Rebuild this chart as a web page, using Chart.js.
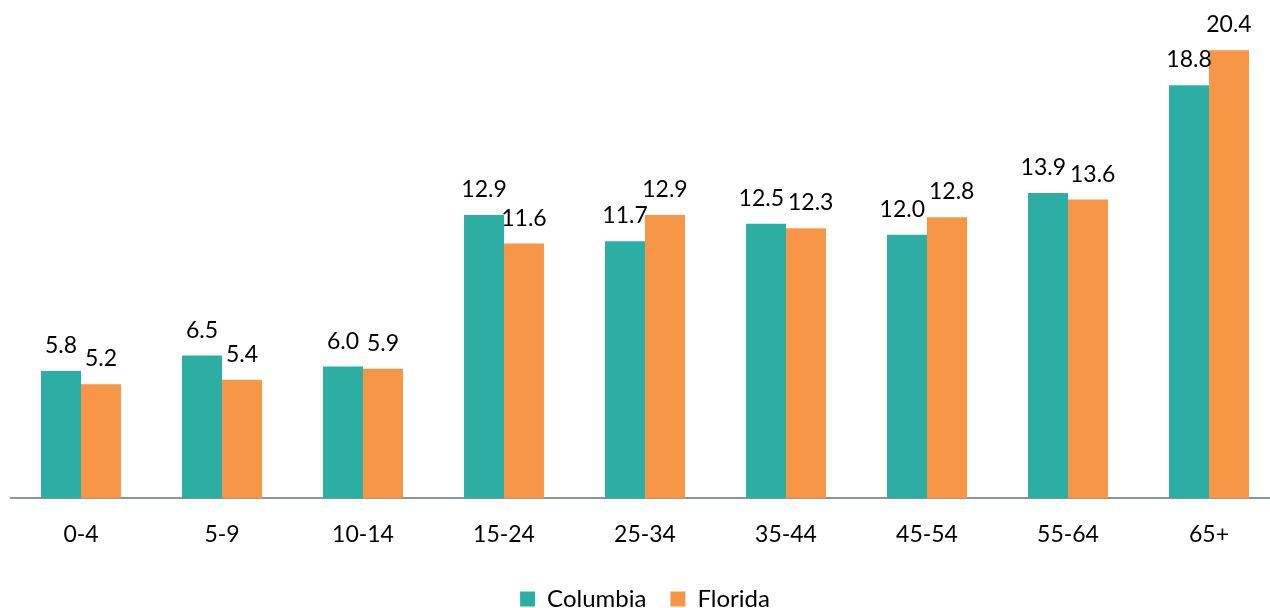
<!DOCTYPE html>
<html>
<head>
<meta charset="utf-8">
<script src="https://cdn.jsdelivr.net/npm/chart.js@4/dist/chart.umd.min.js"></script>
<style>
    html, body { margin: 0; padding: 0; background: #fff; overflow: hidden; }
    #wrap { width: 1270px; height: 608px; overflow: hidden; position: relative; }
    #ageChart { position: absolute; left: 0; top: 0; }
</style>
</head>
<body>
<div id="wrap">
    <canvas id="ageChart" width="1290" height="621"></canvas>
</div>
<script>
const AGE_GROUPS = ["0-4", "5-9", "10-14", "15-24", "25-34", "35-44", "45-54", "55-64", "65+"];
const COLUMBIA = [5.8, 6.5, 6.0, 12.9, 11.7, 12.5, 12.0, 13.9, 18.8];
const FLORIDA = [5.2, 5.4, 5.9, 11.6, 12.9, 12.3, 12.8, 13.6, 20.4];

const COLOR_COLUMBIA = "#2CAEA5";
const COLOR_FLORIDA = "#F79646";
const FONT_FAMILY = "Lato, 'Open Sans', sans-serif";
const FONT_SIZE = 23;

Chart.defaults.font.family = FONT_FAMILY;
Chart.defaults.font.size = FONT_SIZE;
Chart.defaults.color = "#000";

// draws the value above each bar, pushing the two labels of a group apart when they collide
const valueLabels = {
    id: "valueLabels",
    afterDatasetsDraw(chart) {
        const ctx = chart.ctx;
        const gap = 4;
        ctx.save();
        ctx.font = FONT_SIZE + "px " + FONT_FAMILY;
        ctx.fillStyle = "#000";
        ctx.textAlign = "center";
        ctx.textBaseline = "alphabetic";

        const left = chart.getDatasetMeta(0).data;
        const right = chart.getDatasetMeta(1).data;
        const ds = chart.data.datasets;

        left.forEach(function (barA, j) {
            const barB = right[j];
            const textA = ds[0].data[j].toFixed(1);
            const textB = ds[1].data[j].toFixed(1);
            const yA = barA.y - 18;
            const yB = barB.y - 18;
            let xA = barA.x;
            let xB = barB.x;

            const wA = ctx.measureText(textA).width;
            const wB = ctx.measureText(textB).width;
            const overlap = (xA + wA / 2 + gap) - (xB - wB / 2);
            if (overlap > 0 && Math.abs(yA - yB) < FONT_SIZE * 0.8) {
                xA -= overlap / 2;
                xB += overlap / 2;
            }
            ctx.fillText(textA, xA, yA);
            ctx.fillText(textB, xB, yB);
        });
        ctx.restore();
    }
};

const config = {
    type: "bar",
    data: {
        labels: AGE_GROUPS,
        datasets: [
            { label: "Columbia", data: COLUMBIA, backgroundColor: COLOR_COLUMBIA },
            { label: "Florida", data: FLORIDA, backgroundColor: COLOR_FLORIDA }
        ]
    },
    options: {
        responsive: false,
        animation: false,
        layout: { padding: { left: 10.5, right: 10.5, top: 15, bottom: 0 } },
        datasets: {
            bar: { barPercentage: 1, categoryPercentage: 0.567 }
        },
        scales: {
            x: {
                grid: { display: false },
                border: { display: true, color: "#8C9599", width: 2 },
                ticks: { padding: 14, color: "#000" },
                afterFit: function (scale) { scale.height += 1; }
            },
            y: {
                display: false,
                min: 0,
                max: 22
            }
        },
        plugins: {
            legend: {
                position: "bottom",
                labels: {
                    boxWidth: 15,
                    boxHeight: 15,
                    padding: 24,
                    font: { size: 24 },
                    color: "#000"
                }
            },
            tooltip: { enabled: false }
        }
    },
    plugins: [valueLabels]
};

new Chart(document.getElementById("ageChart").getContext("2d"), config);
</script>
</body>
</html>
